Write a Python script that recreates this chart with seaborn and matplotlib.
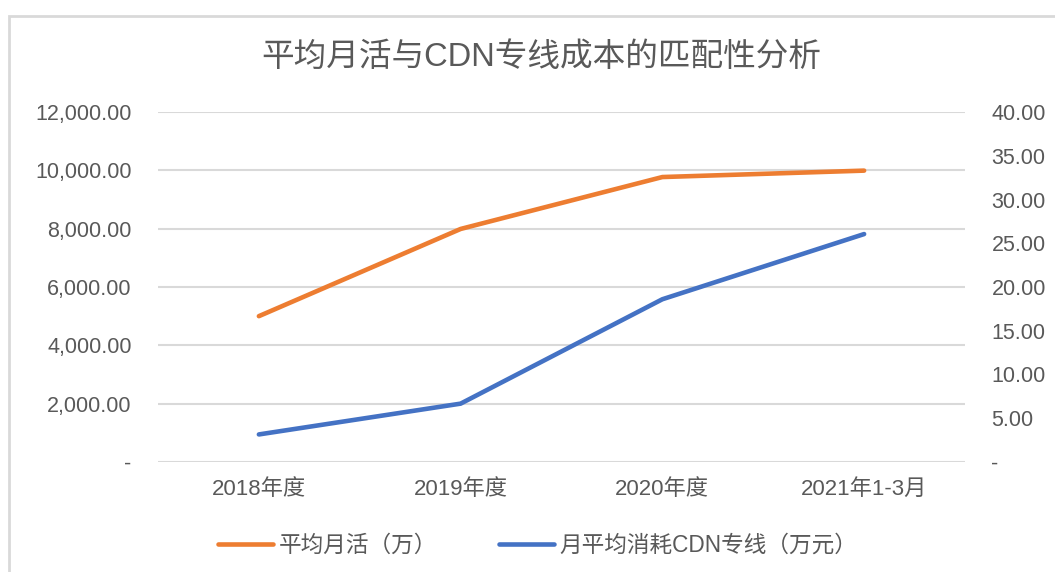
import matplotlib
matplotlib.use("Agg")
import matplotlib.pyplot as plt
import seaborn as sns
import pandas as pd
from matplotlib.patches import Rectangle
from matplotlib.ticker import FuncFormatter

categories = ["2018年度", "2019年度", "2020年度", "2021年1-3月"]
mau = [5000, 7990, 9770, 9990]          # 平均月活（万）
cdn_cost = [3.15, 6.67, 18.6, 26.05]    # 月平均消耗CDN专线（万元）

sns.set_theme(style="white")
plt.rcParams["font.family"] = ["Liberation Sans", "Noto Sans CJK SC", "DejaVu Sans"]

TXT = "#595959"
GRID = "#d9d9d9"
ORANGE = "#ED7D31"
BLUE = "#4472C4"

df = pd.DataFrame({"cat": categories, "mau": mau, "cdn": cdn_cost})


def fmt(v, pos):
    if abs(v) < 1e-9:
        return "-"
    return f"{v:,.2f}"


fig = plt.figure(figsize=(10.55, 5.72), dpi=100)
ax = fig.add_axes([158 / 1055, 1 - 462 / 572, (965 - 158) / 1055, 350 / 572])
ax2 = ax.twinx()

sns.lineplot(data=df, x="cat", y="mau", ax=ax, color=ORANGE, lw=3.3,
             sort=False, label="平均月活（万）", legend=False,
             solid_capstyle="round")
sns.lineplot(data=df, x="cat", y="cdn", ax=ax2, color=BLUE, lw=3.3,
             sort=False, label="月平均消耗CDN专线（万元）", legend=False,
             solid_capstyle="round")

ax.set_xlim(-0.5, 3.5)
ax.set_ylim(0, 12000)
ax.set_yticks(range(0, 12001, 2000))
ax2.set_ylim(0, 40)
ax2.set_yticks(range(0, 41, 5))
ax.yaxis.set_major_formatter(FuncFormatter(fmt))
ax2.yaxis.set_major_formatter(FuncFormatter(fmt))

ax.grid(axis="y", color=GRID, lw=1.5)
ax.grid(axis="x", visible=False)
ax2.grid(False)
ax.set_axisbelow(True)
for a in (ax, ax2):
    for s in a.spines.values():
        s.set_visible(False)
    a.set_xlabel("")
    a.set_ylabel("")
ax.tick_params(axis="y", length=0, pad=19, labelsize=15.5, labelcolor=TXT)
ax2.tick_params(axis="y", length=0, pad=19, labelsize=15.5, labelcolor=TXT)
ax.tick_params(axis="x", length=0, pad=12, labelsize=16, labelcolor=TXT)

fig.text(0.513, 0.899, "平均月活与CDN专线成本的匹配性分析", ha="center",
         va="center", fontsize=23.5, color=TXT)

h1, l1 = ax.get_legend_handles_labels()
h2, l2 = ax2.get_legend_handles_labels()
leg = fig.legend(h1 + h2, l1 + l2, loc="center", bbox_to_anchor=(0.51, 1 - 545 / 572),
                 ncol=2, frameon=False, fontsize=16.3, handlelength=2.4,
                 handletextpad=0.27, columnspacing=2.75)
for t in leg.get_texts():
    t.set_color(TXT)
for lh in leg.get_lines():
    lh.set_solid_capstyle("round")

fig.add_artist(Rectangle((9 / 1055, -0.1), 1.2, 1.1 - 16 / 572,
                         transform=fig.transFigure, fill=False,
                         edgecolor=GRID, lw=2))

fig.savefig("out.png", dpi=100)
